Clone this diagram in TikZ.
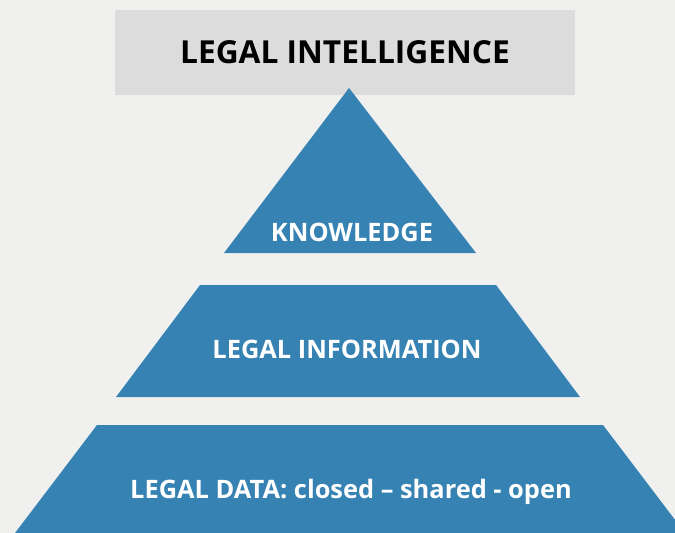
\documentclass[tikz,border=0pt]{standalone}
\usepackage{fontspec}
\setmainfont{Open Sans}
\usepackage{tikz}
\usetikzlibrary{positioning}
\usepackage{xcolor}
\definecolor{lgblue}{RGB}{53,130,179}
\definecolor{lgback}{RGB}{240,240,239}
\definecolor{lgbox}{RGB}{220,220,220}
\tikzstyle{level} = [fill=lgblue]
\tikzstyle{lbl} = [font=\bfseries\fontsize{25.4}{30}\selectfont, text=white, inner sep=0pt, anchor=base]

\begin{document}
\begin{tikzpicture}[x=1pt, y=-1pt]
% Canvas
\useasboundingbox (0,0) rectangle (675,533);
\fill[lgback] (0,0) rectangle (675,533);
\clip (0,0) rectangle (675,533);

% Title box
\fill[lgbox] (115,10) rectangle (575,95);
\node[font=\bfseries\fontsize{31.7}{38}\selectfont, inner sep=0pt, anchor=base] (title) at (345,63) {LEGAL INTELLIGENCE};

% Pyramid levels
\fill[level] (349,88) -- (476,253) -- (224,253) -- cycle;
\fill[level] (200,285) -- (496,285) -- (580,397) -- (116,397) -- cycle;
\fill[level] (97,425) -- (603,425) -- (685,533) -- (15,533) -- cycle;

% Labels
\node[lbl] (knowledge) at (352,241) {KNOWLEDGE};
\node[lbl] (information) at (347,358) {LEGAL INFORMATION};
\node[lbl] (data) at (351,498) {LEGAL DATA: closed – shared - open};
\end{tikzpicture}
\end{document}
